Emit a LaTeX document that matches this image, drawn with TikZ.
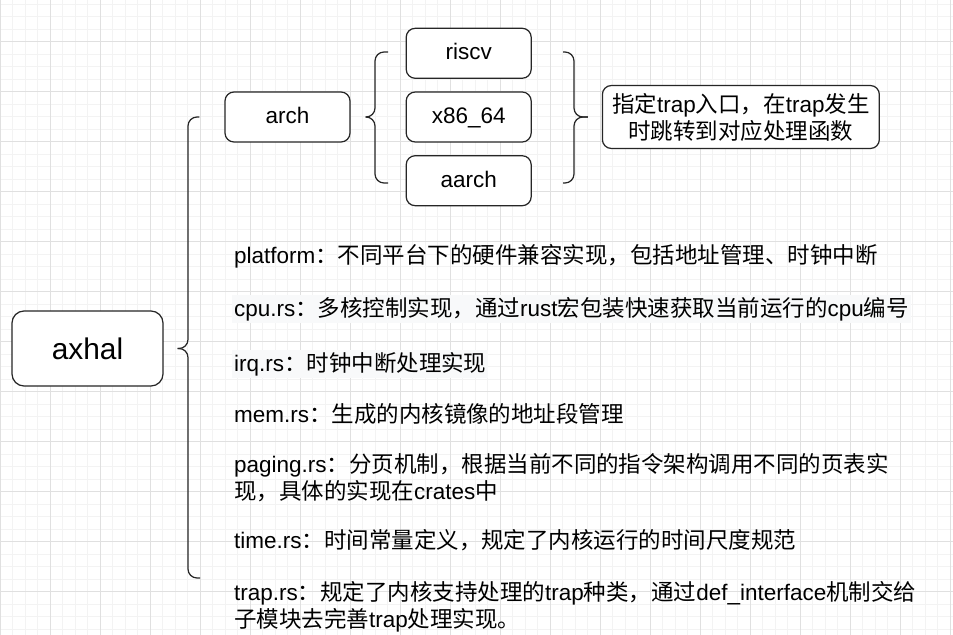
\documentclass[tikz,border=0pt]{standalone}
\usepackage{fontspec}
\setmainfont{Liberation Sans}
\newfontfamily\zhfont{Noto Sans CJK SC}
\newcommand{\zh}[1]{{\zhfont #1}}
\usepackage{tikz}
\usetikzlibrary{positioning, calc}
\definecolor{gridminor}{HTML}{F3F3F3}
\definecolor{gridmajor}{HTML}{E0E0E0}
\definecolor{labelbg}{HTML}{F8F9FA}
\tikzset{
    box/.style={rectangle, draw=black!85, fill=white, rounded corners=0.18cm, line width=0.7pt, minimum width=2.5cm, minimum height=1cm, align=center, font=\fontsize{12.8pt}{15.4pt}\selectfont},
    archbox/.style={box, text height=0.72em, text depth=0pt},
    rootbox/.style={box, minimum width=3.02cm, minimum height=1.5cm, rounded corners=0.24cm, font=\fontsize{17pt}{20pt}\selectfont},
    notebox/.style={box, minimum width=5.54cm, minimum height=1.26cm, inner sep=1pt},
    desc/.style={anchor=west, align=left, inner sep=1pt, font=\fontsize{12.8pt}{15.4pt}\selectfont},
    brace/.style={draw=black!85, line width=0.7pt, rounded corners=0.18cm},
    minorline/.style={draw=gridminor, line width=0.5pt},
    majorline/.style={draw=gridmajor, line width=0.5pt}
}

\begin{document}
\begin{tikzpicture}[x=0.02cm, y=-0.02cm]
        \useasboundingbox (0,0) rectangle (953,635);
        % grid
        \fill[white] (0,0) rectangle (953,635);
        \foreach \k in {0,...,76} \draw[minorline] (\k*12.5,0) -- (\k*12.5,635);
        \foreach \k in {0,...,50} \draw[minorline] (0,4.167+\k*12.5) -- (953,4.167+\k*12.5);
        \foreach \k in {0,...,19} \draw[majorline] (\k*50,0) -- (\k*50,635);
        \foreach \k in {0,...,11} \draw[majorline] (0,41.667+\k*50) -- (953,41.667+\k*50);

        \node[rootbox] (axhal) at (87.5,348.5) {axhal};
        \node[archbox] (arch) at (287.5,117) {arch};
        \node[archbox, right=1.1cm of arch] (x86) {x86\_64};
        \node[archbox, above=0.25cm of x86] (riscv) {riscv};
        \node[archbox, below=0.25cm of x86] (aarch) {aarch};
        \node[notebox, right=1.4cm of x86] (note) {\zh{指定}trap\zh{入口，在}trap\zh{发生}\\\zh{时跳转到对应处理函数}};

        \node[desc] (platform) at (232,256) {platform\zh{：不同平台下的硬件兼容实现，包括地址管理、时钟中断}};
        \node[desc, fill=labelbg] (cpu) at (232,309) {cpu.rs\zh{：多核控制实现，通过}rust\zh{宏包装快速获取当前运行的}cpu\zh{编号}};
        \node[desc, fill=labelbg] (irq) at (232,364) {irq.rs\zh{：时钟中断处理实现}};
        \node[desc] (mem) at (232,414) {mem.rs\zh{：生成的内核镜像的地址段管理}};
        \node[desc] (paging) at (232,478) {paging.rs\zh{：分页机制，根据当前不同的指令架构调用不同的页表实}\\\zh{现，具体的实现在}crates\zh{中}};
        \node[desc] (time) at (232,540) {time.rs\zh{：时间常量定义，规定了内核运行的时间尺度规范}};
        \node[desc] (trap) at (232,607) {trap.rs\zh{：规定了内核支持处理的}trap\zh{种类，通过}def\_interface\zh{机制交给}\\\zh{子模块去完善}trap\zh{处理实现。}};

        % braces
        \coordinate (roottip) at ($(axhal.east)+(14,0)$);
        \coordinate (roottop) at ($(arch.west)+(-25,0)$);
        \coordinate (rootbot) at (200,578);
        \draw[brace] (roottop) -- (188,117) -- (188,348.5) -- (roottip);
        \draw[brace] (roottip) -- (188,348.5) -- (188,578) -- (rootbot);

        \coordinate (archtip) at ($(arch.east)+(15,0)$);
        \coordinate (archtop) at (388,52);
        \coordinate (archbot) at (388,183);
        \draw[brace] (archtop) -- (375,52) -- (375,117) -- (archtip);
        \draw[brace] (archtip) -- (375,117) -- (375,183) -- (archbot);

        \coordinate (notetip) at ($(note.west)+(-14,0)$);
        \coordinate (notetop) at (563,52);
        \coordinate (notebot) at (563,183);
        \draw[brace] (notetop) -- (574,52) -- (574,117) -- (notetip);
        \draw[brace] (notetip) -- (574,117) -- (574,183) -- (notebot);
    \end{tikzpicture}
\end{document}
